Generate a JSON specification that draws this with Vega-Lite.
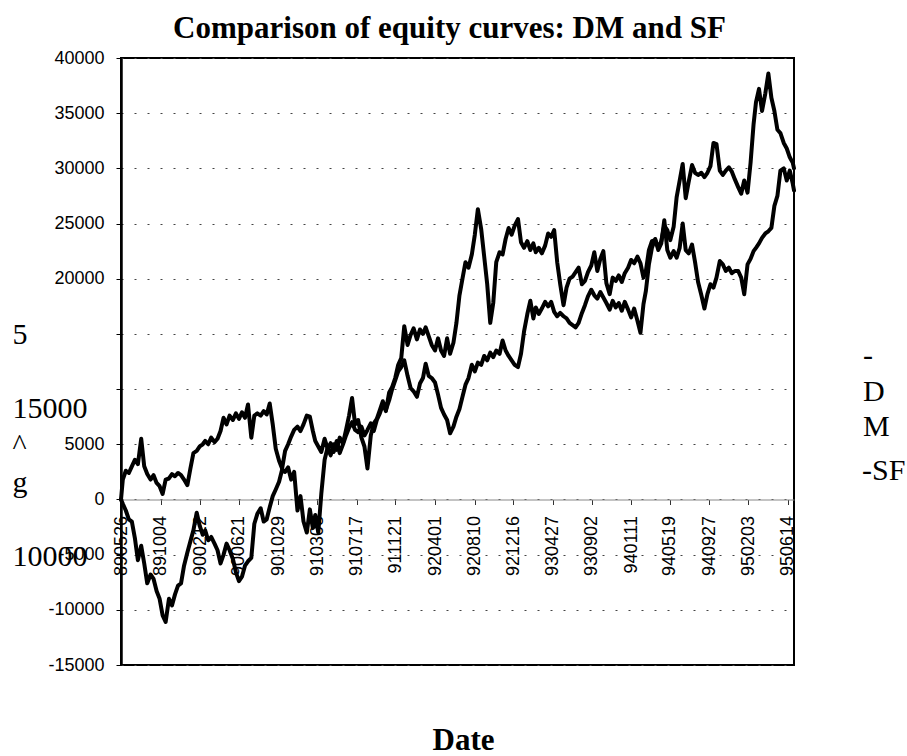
{
  "$schema": "https://vega.github.io/schema/vega-lite/v6.json",
  "width": 673,
  "height": 607,
  "autosize": {"type": "none"},
  "padding": {"left": 121, "top": 58, "right": 113, "bottom": 91},
  "background": "white",
  "title": {"text": "Comparison of equity curves: DM and SF", "font": "Liberation Serif", "fontSize": 31, "fontWeight": "bold", "color": "#000", "anchor": "middle", "frame": "group", "baseline": "alphabetic", "offset": -20, "dx": -8},
  "config": {"view": {"stroke": "#000", "strokeWidth": 2}},
  "data": {"values": [
    {"date":"1989-05-26","DM":0,"SF":0},
    {"date":"1989-06-01","DM":1800,"SF":-400},
    {"date":"1989-06-11","DM":2600,"SF":-1000},
    {"date":"1989-06-21","DM":2400,"SF":-1800},
    {"date":"1989-07-01","DM":3000,"SF":-2000},
    {"date":"1989-07-11","DM":3600,"SF":-3500},
    {"date":"1989-07-21","DM":3200,"SF":-5500},
    {"date":"1989-08-01","DM":5500,"SF":-4200},
    {"date":"1989-08-11","DM":3000,"SF":-5800},
    {"date":"1989-08-21","DM":2300,"SF":-7600},
    {"date":"1989-09-01","DM":1800,"SF":-6800},
    {"date":"1989-09-11","DM":2200,"SF":-7200},
    {"date":"1989-09-21","DM":1500,"SF":-8300},
    {"date":"1989-10-01","DM":1200,"SF":-9000},
    {"date":"1989-10-11","DM":500,"SF":-10500},
    {"date":"1989-10-21","DM":1800,"SF":-11100},
    {"date":"1989-11-01","DM":1900,"SF":-9000},
    {"date":"1989-11-11","DM":2300,"SF":-9600},
    {"date":"1989-11-21","DM":2100,"SF":-8600},
    {"date":"1989-12-01","DM":2400,"SF":-7800},
    {"date":"1989-12-11","DM":2200,"SF":-7600},
    {"date":"1989-12-21","DM":1800,"SF":-6000},
    {"date":"1990-01-01","DM":1300,"SF":-4800},
    {"date":"1990-01-11","DM":2800,"SF":-3800},
    {"date":"1990-01-21","DM":4200,"SF":-2800},
    {"date":"1990-02-01","DM":4400,"SF":-1200},
    {"date":"1990-02-11","DM":4800,"SF":-2400},
    {"date":"1990-02-21","DM":5000,"SF":-3200},
    {"date":"1990-03-01","DM":5300,"SF":-2800},
    {"date":"1990-03-11","DM":5000,"SF":-3700},
    {"date":"1990-03-21","DM":5600,"SF":-3400},
    {"date":"1990-04-01","DM":5200,"SF":-4000},
    {"date":"1990-04-11","DM":5500,"SF":-4600},
    {"date":"1990-04-21","DM":6200,"SF":-5800},
    {"date":"1990-05-01","DM":7400,"SF":-5000},
    {"date":"1990-05-11","DM":6800,"SF":-4000},
    {"date":"1990-05-21","DM":7600,"SF":-4600},
    {"date":"1990-06-01","DM":7200,"SF":-5400},
    {"date":"1990-06-11","DM":7800,"SF":-6600},
    {"date":"1990-06-21","DM":7300,"SF":-7400},
    {"date":"1990-07-01","DM":7900,"SF":-7000},
    {"date":"1990-07-11","DM":7400,"SF":-6000},
    {"date":"1990-07-21","DM":8600,"SF":-5600},
    {"date":"1990-08-01","DM":5600,"SF":-5300},
    {"date":"1990-08-11","DM":7600,"SF":-2200},
    {"date":"1990-08-21","DM":7800,"SF":-1300},
    {"date":"1990-09-01","DM":7600,"SF":-800},
    {"date":"1990-09-11","DM":8000,"SF":-2000},
    {"date":"1990-09-21","DM":7700,"SF":-1800},
    {"date":"1990-10-01","DM":8700,"SF":-700},
    {"date":"1990-10-11","DM":6800,"SF":300},
    {"date":"1990-10-21","DM":4600,"SF":900},
    {"date":"1990-11-01","DM":3500,"SF":1600},
    {"date":"1990-11-11","DM":2800,"SF":2700},
    {"date":"1990-11-21","DM":4400,"SF":2500},
    {"date":"1990-12-01","DM":5000,"SF":2900},
    {"date":"1990-12-11","DM":5700,"SF":1800},
    {"date":"1990-12-21","DM":6300,"SF":2500},
    {"date":"1991-01-01","DM":6600,"SF":-1000},
    {"date":"1991-01-11","DM":6200,"SF":300},
    {"date":"1991-01-21","DM":6800,"SF":-2000},
    {"date":"1991-02-01","DM":7600,"SF":-3000},
    {"date":"1991-02-11","DM":7500,"SF":-900},
    {"date":"1991-02-21","DM":6200,"SF":-2600},
    {"date":"1991-03-01","DM":5300,"SF":-1400},
    {"date":"1991-03-11","DM":4800,"SF":-3000},
    {"date":"1991-03-21","DM":4300,"SF":500},
    {"date":"1991-04-01","DM":5500,"SF":3600},
    {"date":"1991-04-11","DM":4600,"SF":4700},
    {"date":"1991-04-21","DM":5100,"SF":4000},
    {"date":"1991-05-01","DM":4300,"SF":5000},
    {"date":"1991-05-11","DM":5300,"SF":4500},
    {"date":"1991-05-21","DM":4200,"SF":5600},
    {"date":"1991-06-01","DM":5000,"SF":5100},
    {"date":"1991-06-11","DM":5800,"SF":6300},
    {"date":"1991-06-21","DM":6500,"SF":7600},
    {"date":"1991-07-01","DM":7000,"SF":9200},
    {"date":"1991-07-11","DM":6300,"SF":6800},
    {"date":"1991-07-21","DM":6100,"SF":7200},
    {"date":"1991-08-01","DM":6600,"SF":5600},
    {"date":"1991-08-11","DM":5800,"SF":4800},
    {"date":"1991-08-21","DM":6300,"SF":2800},
    {"date":"1991-09-01","DM":6900,"SF":5800},
    {"date":"1991-09-11","DM":6200,"SF":6900},
    {"date":"1991-09-21","DM":7200,"SF":7300},
    {"date":"1991-10-01","DM":7800,"SF":8100},
    {"date":"1991-10-11","DM":8600,"SF":8900},
    {"date":"1991-10-21","DM":8100,"SF":8000},
    {"date":"1991-11-01","DM":9000,"SF":9700},
    {"date":"1991-11-11","DM":10000,"SF":10200},
    {"date":"1991-11-21","DM":10800,"SF":11000},
    {"date":"1991-12-01","DM":11600,"SF":12200},
    {"date":"1991-12-11","DM":12000,"SF":12800},
    {"date":"1991-12-21","DM":12600,"SF":15700},
    {"date":"1992-01-01","DM":11200,"SF":14000},
    {"date":"1992-01-11","DM":10100,"SF":14900},
    {"date":"1992-01-21","DM":9800,"SF":15500},
    {"date":"1992-02-01","DM":9300,"SF":14500},
    {"date":"1992-02-11","DM":10500,"SF":15400},
    {"date":"1992-02-21","DM":11000,"SF":15000},
    {"date":"1992-03-01","DM":12300,"SF":15600},
    {"date":"1992-03-11","DM":11200,"SF":14800},
    {"date":"1992-03-21","DM":11000,"SF":14000},
    {"date":"1992-04-01","DM":10600,"SF":13500},
    {"date":"1992-04-11","DM":9500,"SF":14600},
    {"date":"1992-04-21","DM":8300,"SF":13500},
    {"date":"1992-05-01","DM":7700,"SF":13000},
    {"date":"1992-05-11","DM":7200,"SF":14600},
    {"date":"1992-05-21","DM":6000,"SF":13200},
    {"date":"1992-06-01","DM":6600,"SF":14200},
    {"date":"1992-06-11","DM":7500,"SF":16000},
    {"date":"1992-06-21","DM":8200,"SF":18500},
    {"date":"1992-07-01","DM":9300,"SF":20000},
    {"date":"1992-07-11","DM":10400,"SF":21500},
    {"date":"1992-07-21","DM":11000,"SF":21000},
    {"date":"1992-08-01","DM":12200,"SF":22200},
    {"date":"1992-08-11","DM":11600,"SF":24000},
    {"date":"1992-08-21","DM":12400,"SF":26300},
    {"date":"1992-09-01","DM":12200,"SF":24500},
    {"date":"1992-09-11","DM":13000,"SF":22000},
    {"date":"1992-09-21","DM":12600,"SF":19500},
    {"date":"1992-10-01","DM":13300,"SF":16000},
    {"date":"1992-10-11","DM":12900,"SF":17800},
    {"date":"1992-10-21","DM":13500,"SF":21500},
    {"date":"1992-11-01","DM":13200,"SF":22400},
    {"date":"1992-11-11","DM":14400,"SF":22200},
    {"date":"1992-11-21","DM":13500,"SF":23600},
    {"date":"1992-12-01","DM":13000,"SF":24600},
    {"date":"1992-12-11","DM":12600,"SF":24000},
    {"date":"1992-12-21","DM":12200,"SF":24800},
    {"date":"1993-01-01","DM":12000,"SF":25400},
    {"date":"1993-01-11","DM":13200,"SF":23300},
    {"date":"1993-01-21","DM":15200,"SF":22800},
    {"date":"1993-02-01","DM":16800,"SF":23400},
    {"date":"1993-02-11","DM":18000,"SF":22600},
    {"date":"1993-02-21","DM":16400,"SF":23200},
    {"date":"1993-03-01","DM":17400,"SF":22400},
    {"date":"1993-03-11","DM":16800,"SF":22800},
    {"date":"1993-03-21","DM":17300,"SF":22300},
    {"date":"1993-04-01","DM":17900,"SF":23000},
    {"date":"1993-04-11","DM":17500,"SF":24100},
    {"date":"1993-04-21","DM":17900,"SF":23800},
    {"date":"1993-05-01","DM":17000,"SF":24400},
    {"date":"1993-05-11","DM":16600,"SF":21500},
    {"date":"1993-05-21","DM":16900,"SF":19500},
    {"date":"1993-06-01","DM":16600,"SF":17600},
    {"date":"1993-06-11","DM":16400,"SF":19200},
    {"date":"1993-06-21","DM":16000,"SF":20000},
    {"date":"1993-07-01","DM":15800,"SF":20200},
    {"date":"1993-07-11","DM":15600,"SF":20600},
    {"date":"1993-07-21","DM":16000,"SF":21000},
    {"date":"1993-08-01","DM":16900,"SF":19500},
    {"date":"1993-08-11","DM":17600,"SF":19800},
    {"date":"1993-08-21","DM":18400,"SF":20600},
    {"date":"1993-09-01","DM":19000,"SF":21200},
    {"date":"1993-09-11","DM":18500,"SF":22400},
    {"date":"1993-09-21","DM":18200,"SF":20700},
    {"date":"1993-10-01","DM":18800,"SF":21800},
    {"date":"1993-10-11","DM":18300,"SF":22500},
    {"date":"1993-10-21","DM":17800,"SF":19600},
    {"date":"1993-11-01","DM":17200,"SF":18600},
    {"date":"1993-11-11","DM":18000,"SF":20100},
    {"date":"1993-11-21","DM":17400,"SF":19800},
    {"date":"1993-12-01","DM":17800,"SF":20300},
    {"date":"1993-12-11","DM":17100,"SF":19700},
    {"date":"1993-12-21","DM":17900,"SF":20500},
    {"date":"1994-01-01","DM":17200,"SF":21000},
    {"date":"1994-01-11","DM":16500,"SF":21700},
    {"date":"1994-01-21","DM":17300,"SF":21400},
    {"date":"1994-02-01","DM":16200,"SF":22000},
    {"date":"1994-02-11","DM":15100,"SF":21400},
    {"date":"1994-02-21","DM":17700,"SF":20100},
    {"date":"1994-03-01","DM":18900,"SF":20700},
    {"date":"1994-03-11","DM":21300,"SF":22600},
    {"date":"1994-03-21","DM":22800,"SF":23400},
    {"date":"1994-04-01","DM":23600,"SF":23500},
    {"date":"1994-04-11","DM":22600,"SF":22800},
    {"date":"1994-04-21","DM":23200,"SF":23400},
    {"date":"1994-05-01","DM":25300,"SF":24800},
    {"date":"1994-05-11","DM":22600,"SF":24400},
    {"date":"1994-05-21","DM":21900,"SF":23500},
    {"date":"1994-06-01","DM":22500,"SF":24700},
    {"date":"1994-06-11","DM":21900,"SF":27400},
    {"date":"1994-06-21","DM":22800,"SF":28900},
    {"date":"1994-07-01","DM":25000,"SF":30400},
    {"date":"1994-07-11","DM":22600,"SF":27300},
    {"date":"1994-07-21","DM":22300,"SF":28800},
    {"date":"1994-08-01","DM":23100,"SF":30300},
    {"date":"1994-08-11","DM":21500,"SF":29600},
    {"date":"1994-08-21","DM":19700,"SF":29400},
    {"date":"1994-09-01","DM":18500,"SF":29600},
    {"date":"1994-09-11","DM":17300,"SF":29200},
    {"date":"1994-09-21","DM":18600,"SF":29600},
    {"date":"1994-10-01","DM":19500,"SF":30200},
    {"date":"1994-10-11","DM":19200,"SF":32300},
    {"date":"1994-10-21","DM":20100,"SF":32200},
    {"date":"1994-11-01","DM":21600,"SF":29800},
    {"date":"1994-11-11","DM":21300,"SF":29400},
    {"date":"1994-11-21","DM":20700,"SF":29800},
    {"date":"1994-12-01","DM":21000,"SF":30100},
    {"date":"1994-12-11","DM":20500,"SF":29700},
    {"date":"1994-12-21","DM":20700,"SF":29000},
    {"date":"1995-01-01","DM":20700,"SF":28300},
    {"date":"1995-01-11","DM":20100,"SF":27700},
    {"date":"1995-01-21","DM":18600,"SF":28900},
    {"date":"1995-02-01","DM":21300,"SF":27800},
    {"date":"1995-02-11","DM":21800,"SF":30500},
    {"date":"1995-02-21","DM":22500,"SF":34000},
    {"date":"1995-03-01","DM":22800,"SF":36000},
    {"date":"1995-03-11","DM":23200,"SF":37200},
    {"date":"1995-03-21","DM":23700,"SF":35200},
    {"date":"1995-04-01","DM":24100,"SF":36800},
    {"date":"1995-04-11","DM":24300,"SF":38600},
    {"date":"1995-04-21","DM":24600,"SF":36400},
    {"date":"1995-05-01","DM":26600,"SF":35200},
    {"date":"1995-05-11","DM":27500,"SF":33500},
    {"date":"1995-05-21","DM":29800,"SF":33200},
    {"date":"1995-06-01","DM":30000,"SF":32300},
    {"date":"1995-06-11","DM":28900,"SF":31800},
    {"date":"1995-06-21","DM":29800,"SF":31000},
    {"date":"1995-07-01","DM":28600,"SF":30500},
    {"date":"1995-07-05","DM":28000,"SF":30000}
  ]},
  "transform": [{"fold": ["DM", "SF"], "as": ["series", "equity"]}],
  "mark": {"type": "line", "strokeWidth": 4, "strokeJoin": "round", "strokeCap": "round"},
  "encoding": {
    "x": {
      "field": "date",
      "type": "temporal",
      "scale": {"type": "utc", "nice": false, "domain": [{"year": 1989, "month": 5, "date": 26, "utc": true}, {"year": 1995, "month": 7, "date": 5, "utc": true}]},
      "axis": {
        "values": [
          {"year": 1989, "month": 5, "date": 26, "utc": true},
          {"year": 1989, "month": 10, "date": 4, "utc": true},
          {"year": 1990, "month": 2, "date": 12, "utc": true},
          {"year": 1990, "month": 6, "date": 21, "utc": true},
          {"year": 1990, "month": 10, "date": 29, "utc": true},
          {"year": 1991, "month": 3, "date": 8, "utc": true},
          {"year": 1991, "month": 7, "date": 17, "utc": true},
          {"year": 1991, "month": 11, "date": 21, "utc": true},
          {"year": 1992, "month": 4, "date": 1, "utc": true},
          {"year": 1992, "month": 8, "date": 10, "utc": true},
          {"year": 1992, "month": 12, "date": 16, "utc": true},
          {"year": 1993, "month": 4, "date": 27, "utc": true},
          {"year": 1993, "month": 9, "date": 2, "utc": true},
          {"year": 1994, "month": 1, "date": 11, "utc": true},
          {"year": 1994, "month": 5, "date": 19, "utc": true},
          {"year": 1994, "month": 9, "date": 27, "utc": true},
          {"year": 1995, "month": 2, "date": 3, "utc": true},
          {"year": 1995, "month": 6, "date": 14, "utc": true}
        ],
        "format": "%y%m%d",
        "labelAngle": 270,
        "labelFont": "Liberation Sans",
        "labelFontSize": 18,
        "labelColor": "#000",
        "labelPadding": 11,
        "labelFlush": false,
        "labelOverlap": false,
        "labelBound": false,
        "tickSize": 5,
        "tickColor": "#333",
        "domainColor": "#888",
        "domainWidth": 1,
        "offset": -165.5,
        "grid": false,
        "title": "Date",
        "titleFont": "Liberation Serif",
        "titleFontSize": 31,
        "titleFontWeight": "bold",
        "titleColor": "#000",
        "titleAlign": "center",
        "titleBaseline": "alphabetic",
        "titleX": 342,
        "titleY": 250
      }
    },
    "y": {
      "field": "equity",
      "type": "quantitative",
      "scale": {"domain": [-15000, 40000], "nice": false, "zero": false},
      "axis": {
        "values": [-15000, -10000, -5000, 0, 5000, 10000, 15000, 20000, 25000, 30000, 35000, 40000],
        "labelExpr": "datum.value == 15000 || datum.value == 10000 ? '' : '' + datum.value",
        "labelFont": "Liberation Sans",
        "labelFontSize": 18,
        "labelColor": "#000",
        "labelPadding": 12,
        "tickSize": 5,
        "tickColor": "#000",
        "domainColor": "#000",
        "domainWidth": 2.5,
        "grid": true,
        "gridColor": "#444",
        "gridDash": [2, 11],
        "gridWidth": 1,
        "title": ["5", "\u200b", "15000", "^", "g", "\u200b", "10000"],
        "titleFont": "Liberation Serif",
        "titleFontSize": 30,
        "titleFontWeight": "normal",
        "titleColor": "#000",
        "titleAngle": 0,
        "titleAlign": "left",
        "titleBaseline": "alphabetic",
        "titleLineHeight": 37,
        "titleX": -109,
        "titleY": 285
      }
    },
    "color": {
      "field": "series",
      "type": "nominal",
      "scale": {"domain": ["DM", "SF"], "range": ["#000000", "#000000"]},
      "legend": {
        "orient": "none",
        "legendX": 742,
        "legendY": 307,
        "values": ["SF"],
        "title": ["-", "D", "M"],
        "titleFont": "Liberation Serif",
        "titleFontSize": 30,
        "titleFontWeight": "normal",
        "titleColor": "#000",
        "titleLineHeight": 35.5,
        "titleBaseline": "alphabetic",
        "titlePadding": -10,
        "labelExpr": "'-' + datum.label",
        "labelFont": "Liberation Serif",
        "labelFontSize": 30,
        "labelColor": "#000",
        "labelOffset": -31,
        "symbolSize": 0,
        "symbolOpacity": 0,
        "symbolStrokeWidth": 0,
        "padding": 0
      }
    }
  }
}
